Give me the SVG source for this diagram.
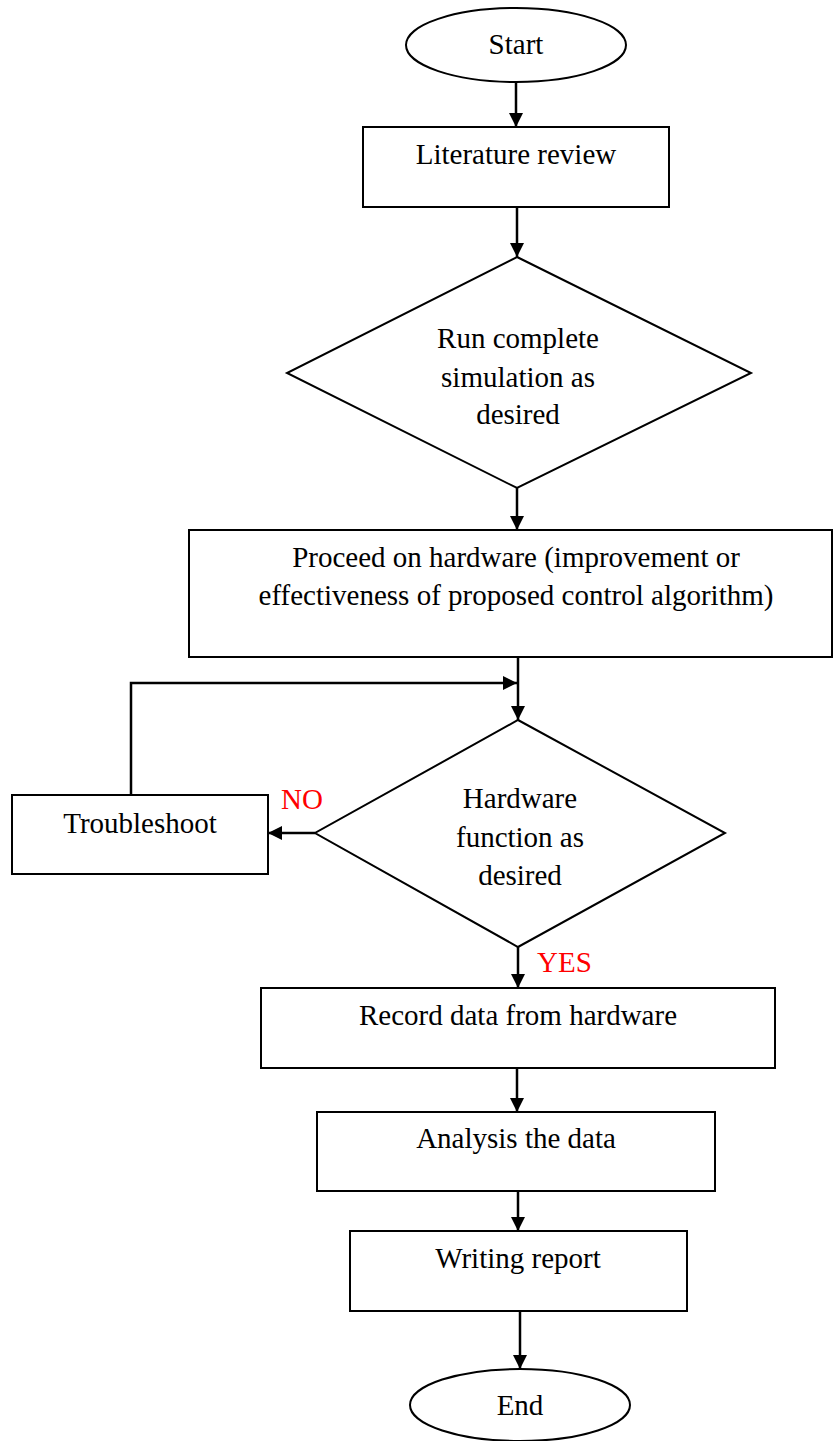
<svg xmlns="http://www.w3.org/2000/svg" width="833" height="1441" viewBox="0 0 833 1441">
<style>
.shape{fill:#fff;stroke:#000;stroke-width:2}
.t{font-family:"Liberation Serif","Times New Roman",serif;font-size:29px;fill:#000;text-anchor:middle}
.red{font-family:"Liberation Serif","Times New Roman",serif;font-size:29px;fill:#ff0000}
.c{fill:none;stroke:#000;stroke-width:2.5}
</style>
<defs>
<marker id="ah" markerUnits="userSpaceOnUse" markerWidth="14" markerHeight="14" refX="14" refY="7" orient="auto">
<path d="M0,0 L14,7 L0,14 z" fill="#000"/>
</marker>
</defs>
<rect width="833" height="1441" fill="#fff"/>
<g id="connectors">
<line class="c" x1="516" y1="82" x2="516" y2="127" marker-end="url(#ah)"/>
<line class="c" x1="517" y1="207" x2="517" y2="257" marker-end="url(#ah)"/>
<line class="c" x1="517" y1="488" x2="517" y2="530" marker-end="url(#ah)"/>
<line class="c" x1="518" y1="657" x2="518" y2="720" marker-end="url(#ah)"/>
<polyline class="c" points="131,795 131,683 517,683" marker-end="url(#ah)"/>
<line class="c" x1="315" y1="833" x2="268" y2="833" marker-end="url(#ah)"/>
<line class="c" x1="518" y1="947" x2="518" y2="988" marker-end="url(#ah)"/>
<line class="c" x1="517" y1="1068" x2="517" y2="1112" marker-end="url(#ah)"/>
<line class="c" x1="518" y1="1191" x2="518" y2="1231" marker-end="url(#ah)"/>
<line class="c" x1="520" y1="1311" x2="520" y2="1369" marker-end="url(#ah)"/>
<text class="red" x="281" y="809">NO</text>
<text class="red" x="537" y="972">YES</text>
</g>
<g id="start">
<ellipse class="shape" cx="516" cy="45" rx="110" ry="37"/>
<text class="t" x="516" y="54">Start</text>
</g>
<g id="literature">
<rect class="shape" x="363" y="127" width="306" height="80"/>
<text class="t" x="516" y="164">Literature review</text>
</g>
<g id="simulation">
<polygon class="shape" points="517,257 751,373 517,488 287,373"/>
<text class="t" x="518" y="348">Run complete</text>
<text class="t" x="518" y="387">simulation as</text>
<text class="t" x="518" y="424">desired</text>
</g>
<g id="proceed">
<rect class="shape" x="189" y="530" width="643" height="127"/>
<text class="t" x="516" y="567">Proceed on hardware (improvement or</text>
<text class="t" x="516" y="605">effectiveness of proposed control algorithm)</text>
</g>
<g id="hardware">
<polygon class="shape" points="518,720 725,833 518,947 315,833"/>
<text class="t" x="520" y="808">Hardware</text>
<text class="t" x="520" y="847">function as</text>
<text class="t" x="520" y="885">desired</text>
</g>
<g id="troubleshoot">
<rect class="shape" x="12" y="795" width="256" height="79"/>
<text class="t" x="140" y="833">Troubleshoot</text>
</g>
<g id="record">
<rect class="shape" x="261" y="988" width="514" height="80"/>
<text class="t" x="518" y="1025">Record data from hardware</text>
</g>
<g id="analysis">
<rect class="shape" x="317" y="1112" width="398" height="79"/>
<text class="t" x="516" y="1148">Analysis the data</text>
</g>
<g id="writing">
<rect class="shape" x="350" y="1231" width="337" height="80"/>
<text class="t" x="518" y="1268">Writing report</text>
</g>
<g id="end">
<ellipse class="shape" cx="520" cy="1405" rx="110" ry="36"/>
<text class="t" x="520" y="1415">End</text>
</g>
</svg>
